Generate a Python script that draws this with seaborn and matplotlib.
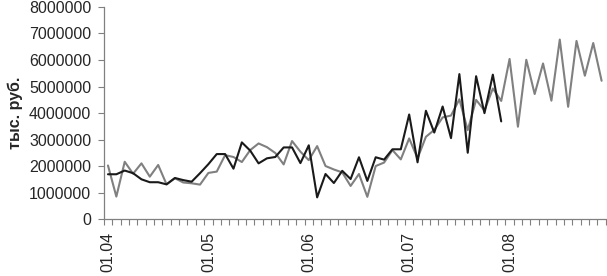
import numpy as np
import pandas as pd
import matplotlib
matplotlib.use("Agg")
import matplotlib.pyplot as plt
import seaborn as sns
from matplotlib.ticker import FixedLocator, NullFormatter

# Monthly series, Jan 2004 .. Dec 2008 (values in thousand roubles)
months = [f"{m:02d}.{y:02d}" for y in range(4, 9) for m in range(1, 13)]
tick_labels = ["01.04", "01.05", "01.06", "01.07", "01.08"]

series_black = [1.70, 1.70, 1.84, 1.74, 1.51, 1.40, 1.40, 1.32, 1.56, 1.48,
                1.42, 1.74, 2.08, 2.46, 2.46, 1.91, 2.90, 2.59, 2.11, 2.30,
                2.35, 2.71, 2.71, 2.12, 2.79, 0.83, 1.71, 1.37, 1.83, 1.52,
                2.34, 1.45, 2.34, 2.25, 2.64, 2.64, 3.95, 2.15, 4.09, 3.27,
                4.25, 3.06, 5.47, 2.51, 5.39, 4.00, 5.45, 3.69]
series_grey = [2.03, 0.86, 2.17, 1.72, 2.11, 1.61, 2.05, 1.32, 1.55, 1.39,
               1.36, 1.31, 1.75, 1.80, 2.42, 2.35, 2.16, 2.61, 2.86, 2.72,
               2.50, 2.07, 2.95, 2.55, 2.23, 2.76, 2.01, 1.88, 1.77, 1.26,
               1.71, 0.85, 2.01, 2.14, 2.61, 2.26, 3.05, 2.30, 3.11, 3.37,
               3.84, 3.91, 4.52, 3.36, 4.50, 4.10, 4.93, 4.46, 6.04, 3.49,
               6.01, 4.72, 5.87, 4.47, 6.77, 4.24, 6.72, 5.41, 6.64, 5.22]

df_grey = pd.DataFrame({"idx": np.arange(len(series_grey)),
                        "value": np.array(series_grey) * 1e6})
df_black = pd.DataFrame({"idx": np.arange(len(series_black)),
                         "value": np.array(series_black) * 1e6})

sns.set_style("white")
plt.rcParams["font.family"] = ["Liberation Sans", "DejaVu Sans"]

fig = plt.figure(figsize=(6.07, 2.76), dpi=100)
ax = fig.add_axes([0.171, 0.205, 0.827, 0.77])

sns.lineplot(data=df_grey, x="idx", y="value", ax=ax, color="#808080",
             linewidth=1.5)
sns.lineplot(data=df_black, x="idx", y="value", ax=ax, color="#1a1a1a",
             linewidth=1.5)

ax.set_xlim(-0.5, len(months) - 0.5)
ax.set_ylim(0, 8e6)
ax.set_yticks(np.arange(0, 8e6 + 1, 1e6))
ax.set_yticklabels([f"{int(v)}" for v in np.arange(0, 8e6 + 1, 1e6)],
                   fontsize=11.5)

label_pos = [months.index(t) for t in tick_labels]
ax.set_xticks(label_pos)
ax.set_xticklabels(tick_labels, rotation=90, fontsize=11.5)
ax.tick_params(axis="x", which="major", length=0, pad=9)
ax.xaxis.set_minor_locator(FixedLocator(np.arange(-0.5, len(months), 1)))
ax.xaxis.set_minor_formatter(NullFormatter())
ax.tick_params(axis="x", which="minor", length=4, width=0.8,
               color="#808080", direction="out", bottom=True)
ax.tick_params(axis="y", length=4, width=0.8, color="#808080",
               direction="out", left=True, pad=5)

ax.set_xlabel("")
ax.set_ylabel("тыс. руб.", fontsize=11.5, fontweight="bold", labelpad=4)

for s in ["top", "right"]:
    ax.spines[s].set_visible(False)
for s in ["left", "bottom"]:
    ax.spines[s].set_color("#808080")
    ax.spines[s].set_linewidth(0.9)

fig.savefig("out.png", dpi=100)
